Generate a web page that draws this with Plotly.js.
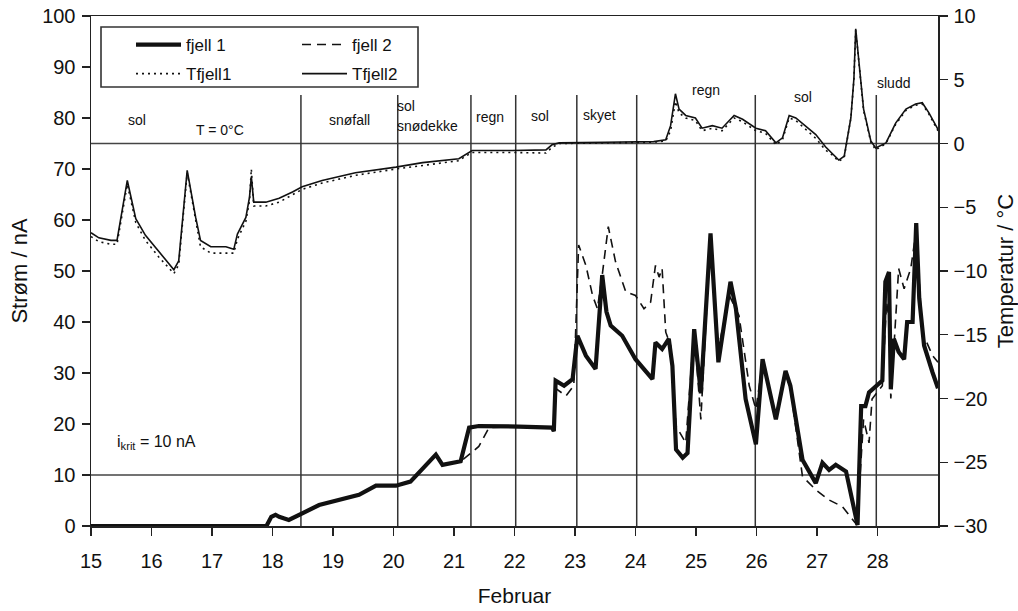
<!DOCTYPE html>
<html><head><meta charset="utf-8">
<script src="https://cdn.plot.ly/plotly-3.0.1.min.js"></script>
<style>html,body{margin:0;padding:0;background:#fff}#chart{width:1018px;height:611px}</style>
</head><body><div id="chart"></div><script>
// ---- data ----
const dayTicks = [15,16,17,18,19,20,21,22,23,24,25,26,27,28];
const dayLabels = ["15","16","17","18","19","20","21","22","23","24","25","26","27","28"];
const currentTicks = [0,10,20,30,40,50,60,70,80,90,100];
const tempTicks = [-30,-25,-20,-15,-10,-5,0,5,10];

const tDays = [15.0,15.13,15.33,15.43,15.6,15.74,15.9,16.12,16.37,16.45,
16.59,16.73,16.81,16.98,17.23,17.36,17.42,17.56,17.62,17.65,
17.69,17.89,18.11,18.33,18.49,18.82,19.37,20.04,20.48,21.08,
21.19,21.3,21.96,22.52,22.62,22.74,23.5,24.3,24.5,24.58,
24.66,24.72,24.83,24.99,25.1,25.27,25.43,25.63,25.77,25.99,
26.15,26.32,26.43,26.54,26.65,26.81,26.98,27.14,27.25,27.36,
27.45,27.56,27.61,27.64,27.72,27.77,27.89,27.97,28.14,28.3,
28.47,28.63,28.74,28.85,29.0];
const Tfjell2 = [-7.0,-7.4,-7.6,-7.6,-2.9,-5.9,-7.2,-8.5,-9.9,-9.2,
-2.1,-5.8,-7.6,-8.1,-8.1,-8.3,-7.1,-5.8,-4.2,-2.6,
-4.6,-4.6,-4.3,-3.8,-3.4,-2.9,-2.3,-1.85,-1.5,-1.2,
-0.9,-0.55,-0.55,-0.5,-0.1,0.05,0.1,0.15,0.3,1.4,
3.9,2.7,2.2,2.0,1.2,1.4,1.2,2.2,1.9,1.2,
1.0,0.05,0.45,2.2,2.0,1.4,0.7,-0.25,-0.75,-1.3,
-1.0,2.0,5.1,9.0,5.1,2.7,0.2,-0.35,0.05,1.6,
2.7,3.1,3.2,2.4,1.1];
const Tfjell1 = [-7.3,-7.7,-7.9,-7.9,-3.2,-6.2,-7.6,-8.9,-10.2,-9.5,
-2.3,-6.2,-8.1,-8.6,-8.6,-8.6,-7.5,-6.1,-4.5,-2.0,
-4.9,-4.9,-4.6,-4.0,-3.6,-3.1,-2.5,-2.0,-1.7,-1.35,
-1.0,-0.7,-0.7,-0.75,-0.3,0.0,0.05,0.1,0.2,1.0,
3.3,2.4,2.0,1.8,1.0,1.2,1.0,2.0,1.7,1.0,
0.8,-0.1,0.3,2.0,1.8,1.1,0.4,-0.5,-0.9,-1.4,
-1.1,2.0,5.0,8.9,5.0,2.6,0.1,-0.5,0.0,1.5,
2.6,3.0,3.1,2.3,1.0];

const f1Days = [15.0,17.9,17.98,18.05,18.11,18.27,18.77,19.43,19.71,20.04,
20.28,20.42,20.7,20.81,21.11,21.25,21.41,22.07,22.62,22.65,
22.68,22.82,22.96,23.04,23.18,23.34,23.4,23.45,23.52,23.59,
23.78,24.0,24.28,24.33,24.44,24.55,24.61,24.67,24.78,24.86,
24.97,25.08,25.24,25.37,25.57,25.66,25.82,25.99,26.1,26.32,
26.48,26.56,26.76,26.98,27.09,27.2,27.31,27.48,27.67,27.73,
27.8,27.86,28.08,28.13,28.19,28.22,28.27,28.35,28.44,28.49,
28.58,28.64,28.69,28.77,28.91,29.0];
const fjell1 = [0,0,1.8,2.2,1.8,1.2,4.1,6.1,7.9,7.9,
8.7,10.4,14.0,12.0,12.7,19.3,19.6,19.5,19.3,18.6,
28.5,27.5,28.8,37.3,33.4,30.8,42.6,49.2,42.0,39.3,
37.3,32.7,28.8,36.0,34.7,36.7,31.4,15.0,13.4,14.3,
38.6,26.0,57.4,32.1,47.9,42.6,24.9,16.0,32.7,20.9,
30.4,27.5,13.0,8.4,12.4,11.0,12.0,10.7,0.2,23.5,
23.5,26.2,28.5,47.9,49.8,26.8,36.7,34.1,32.7,40.0,
40.0,59.4,44.6,35.4,30.1,27.0];

const f2Days = [15.0,17.9,17.98,18.05,18.11,18.27,18.77,19.43,19.71,20.04,
20.28,20.42,20.7,20.81,21.11,21.28,21.41,21.58,22.07,22.62,
22.65,22.68,22.85,22.98,23.06,23.18,23.29,23.37,23.45,23.55,
23.67,23.84,24.0,24.14,24.25,24.33,24.39,24.44,24.5,24.58,
24.67,24.83,24.97,25.08,25.24,25.37,25.55,25.71,25.88,25.99,
26.1,26.32,26.48,26.56,26.76,26.98,27.2,27.42,27.66,27.77,
27.86,27.91,28.08,28.15,28.19,28.22,28.35,28.44,28.55,28.64,
28.74,28.91,29.0];
const fjell2 = [0,0,1.8,2.2,1.8,1.2,4.1,6.1,7.9,7.9,
8.7,10.4,14.0,12.0,12.7,14.3,15.6,19.3,19.5,19.3,
18.6,27.0,25.5,27.5,55.1,51.1,45.2,42.6,49.2,58.7,
51.8,45.9,45.2,42.6,43.9,51.1,48.8,50.5,38.0,35.4,
19.6,16.3,38.6,20.9,57.0,34.7,45.2,41.3,27.5,22.9,
32.0,21.5,30.0,27.0,9.7,7.1,5.1,3.8,0.2,20.9,
16.3,24.9,27.5,44.0,40.6,25.0,50.5,46.5,50.5,58.0,
38.0,33.4,32.1];

// weather periods: boundaries and labels
const boundaries = [18.47,20.07,21.28,22.02,23.03,24.02,25.98,27.98];
const weatherLabels = ["sol","T = 0°C","snøfall","sol","snødekke","regn","sol","skyet","regn","sol","sludd"];
const weatherX = [15.76,17.13,19.28,20.03,20.03,21.6,22.42,23.41,25.17,26.77,28.27];
const weatherY = [79.6,77.6,79.6,82.4,78.4,80.2,80.4,80.6,85.5,84.1,86.9];
const iKrit = 10;
const tZero = 0;

// ---- layout helpers ----
const FONT = "Liberation Sans, Arial, Helvetica, sans-serif";
const PL = 91, PR = 938, PT = 16, PB = 526;
const px = v => (v - PL) / (PR - PL);
const py = v => (PB - v) / (PB - PT);

const traces = [
  {x: f2Days, y: fjell2, name: "fjell 2", mode: "lines", yaxis: "y", legend: "legend2", legendrank: 1, legendgroup: "b1",
   line: {color: "#111", width: 1.6, dash: "9px,6px"}},
  {x: tDays, y: Tfjell1, name: "Tfjell1", mode: "lines", yaxis: "y2", legend: "legend", legendrank: 2, legendgroup: "a2",
   line: {color: "#111", width: 1.6, dash: "2px,4px"}},
  {x: tDays, y: Tfjell2, name: "Tfjell2", mode: "lines", yaxis: "y2", legend: "legend2", legendrank: 2, legendgroup: "b2",
   line: {color: "#111", width: 1.6}},
  {x: f1Days, y: fjell1, name: "fjell 1", mode: "lines", yaxis: "y", legend: "legend", legendrank: 1, legendgroup: "a1",
   line: {color: "#111", width: 4.2}}
];

const shapes = [];
boundaries.forEach(b => shapes.push({type: "line", xref: "x", yref: "y", x0: b, x1: b, y0: 0, y1: 84.5,
  line: {color: "#333", width: 1.5}, layer: "below"}));
shapes.push({type: "line", xref: "paper", yref: "y2", x0: 0, x1: 1, y0: tZero, y1: tZero, line: {color: "#444", width: 1.4}, layer: "below"});
shapes.push({type: "line", xref: "paper", yref: "y", x0: 0, x1: 1, y0: iKrit, y1: iKrit, line: {color: "#444", width: 1.4}, layer: "below"});
shapes.push({type: "rect", xref: "paper", yref: "paper", x0: px(101), x1: px(418), y0: py(87), y1: py(27),
  line: {color: "#333", width: 1.6}, fillcolor: "rgba(0,0,0,0)"});

const annotations = weatherLabels.map((t, i) => ({
  x: weatherX[i], y: weatherY[i], xref: "x", yref: "y", text: t, showarrow: false,
  xanchor: (weatherX[i] === 20.03) ? "left" : "center",
  font: {family: FONT, size: 14, color: "#111"}
}));
annotations.push({x: 15.4, y: 16.3, xref: "x", yref: "y", xanchor: "left", showarrow: false,
  text: "i<sub>krit</sub> = 10 nA", font: {family: FONT, size: 16, color: "#111"}});

const axisCommon = {showgrid: false, zeroline: false, showline: true, linecolor: "#222", linewidth: 1.5,
  ticks: "outside", ticklen: 8, tickwidth: 1.3, tickcolor: "#222",
  tickfont: {family: FONT, size: 20, color: "#111"}};

const layout = {
  width: 1018, height: 611,
  margin: {l: PL, r: 1018 - PR, t: PT, b: 611 - PB},
  paper_bgcolor: "#fff", plot_bgcolor: "#fff",
  font: {family: FONT, color: "#111"},
  xaxis: Object.assign({}, axisCommon, {range: [15, 29], tickvals: dayTicks, ticktext: dayLabels, mirror: true,
    ticklabelstandoff: 8,
    title: {text: "Februar", font: {family: FONT, size: 21, color: "#111"}, standoff: 18}}),
  xaxis2: {overlaying: "x", anchor: "y", range: [15, 29], tickvals: dayTicks, ticks: "inside", ticklen: 8, tickwidth: 1.3,
    tickcolor: "#222", showticklabels: false, showline: false, showgrid: false, zeroline: false},
  yaxis: Object.assign({}, axisCommon, {range: [0, 100], tickvals: currentTicks, ticklabelstandoff: 2,
    title: {text: "Strøm / nA", font: {family: FONT, size: 22, color: "#111"}, standoff: 8}}),
  yaxis2: Object.assign({}, axisCommon, {range: [-30, 10], tickvals: tempTicks, overlaying: "y", side: "right", anchor: "x",
    ticklabelstandoff: 2,
    title: {text: "Temperatur / °C", font: {family: FONT, size: 22, color: "#111"}, standoff: 14}}),
  yaxis3: {overlaying: "y", side: "left", anchor: "x", range: [0, 100], tickvals: currentTicks, ticks: "inside", ticklen: 8,
    tickwidth: 1.3, tickcolor: "#222", showticklabels: false, showline: false, showgrid: false, zeroline: false},
  yaxis4: {overlaying: "y", side: "right", anchor: "x", range: [-30, 10], tickvals: tempTicks, ticks: "inside", ticklen: 8,
    tickwidth: 1.3, tickcolor: "#222", showticklabels: false, showline: false, showgrid: false, zeroline: false},
  legend: {x: px(131), y: py(27), xanchor: "left", yanchor: "top", bgcolor: "rgba(0,0,0,0)", borderwidth: 0,
    font: {family: FONT, size: 17, color: "#111"}, itemwidth: 45, tracegroupgap: 4, traceorder: "grouped"},
  legend2: {x: px(297), y: py(27), xanchor: "left", yanchor: "top", bgcolor: "rgba(0,0,0,0)", borderwidth: 0,
    font: {family: FONT, size: 17, color: "#111"}, itemwidth: 45, tracegroupgap: 4, traceorder: "grouped"},
  shapes: shapes,
  annotations: annotations,
  showlegend: true
};

Plotly.newPlot("chart", traces, layout, {displayModeBar: false, staticPlot: true});
</script></body></html>
